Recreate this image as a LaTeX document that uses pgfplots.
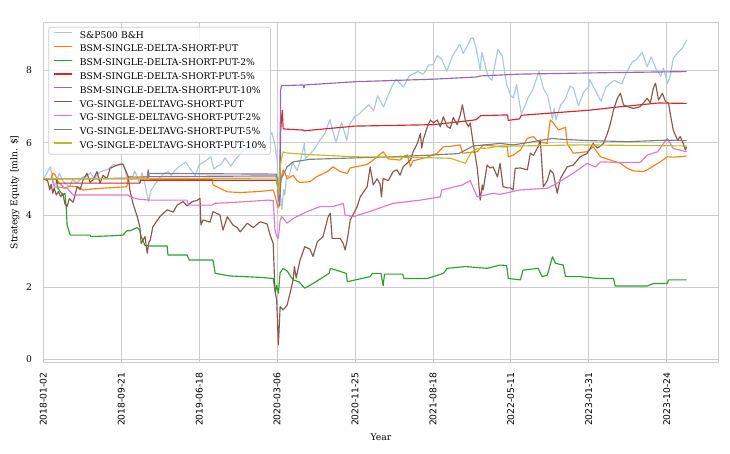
\documentclass[border=0pt]{standalone}
\usepackage{fontspec}
\setmainfont{DejaVu Serif}
\newfontfamily\dvsans{DejaVu Sans}
\usepackage{pgfplots}
\pgfplotsset{compat=1.18}
\definecolor{gridc}{RGB}{204,204,204}
\definecolor{spb}{RGB}{165,201,225}
\definecolor{torange}{RGB}{255,127,14}
\definecolor{tgreen}{RGB}{44,160,44}
\definecolor{tred}{RGB}{214,39,40}
\definecolor{tpurple}{RGB}{148,103,189}
\definecolor{tbrown}{RGB}{140,86,75}
\definecolor{tpink}{RGB}{227,119,194}
\definecolor{tgray}{RGB}{127,127,127}
\definecolor{tolive}{RGB}{188,189,34}
\newcommand\fs{\fontsize{9.2}{11}\selectfont}
\begin{document}
\begin{tikzpicture}
\useasboundingbox (-43.3pt,-90.8pt) rectangle (686.7pt,362.2pt);
\begin{axis}[
 at={(0pt,0pt)}, anchor=south west,
 scale only axis, width=675.4pt, height=339.7pt,
 xmin=0, xmax=1560, ymin=-0.08, ymax=9.33,
 xtick={0,180,360,540,720,900,1080,1260,1440},
 xticklabels={2018-01-02,2018-09-21,2019-06-18,2020-03-06,2020-11-25,2021-08-18,2022-05-11,2023-01-31,2023-10-24},
 ytick={0,2,4,6,8},
 /pgf/number format/assume math mode=true,
 major tick length=0pt,
 grid=major,
 major grid style={draw=gridc, line width=0.8pt},
 axis line style={draw=gridc, line width=1pt},
 xticklabel style={font=\dvsans\fs, rotate=90, anchor=east, inner xsep=10pt, inner ysep=0pt},
 yticklabel style={font=\fs, anchor=east, inner xsep=11pt, inner ysep=0pt},
 xlabel={Year}, ylabel={Strategy Equity [mln. \$]},
 every axis x label/.style={at={(axis description cs:0.5,0)}, yshift=-75pt, anchor=center, font=\fs},
 every axis y label/.style={at={(axis description cs:0,0.5)}, xshift=-28.3pt, rotate=90, anchor=center, font=\fs},
 legend cell align=left,
 legend style={at={(0.0074,0.987)}, anchor=north west, draw=gridc, line width=0.8pt, rounded corners=2pt,
   fill=white, fill opacity=0.8, text opacity=1, draw opacity=1, font=\fs, inner xsep=4.4pt, inner ysep=3.8pt, row sep=4.8pt,
   nodes={inner sep=0pt, text height=7pt, text depth=2pt},
   /tikz/every odd column/.append style={column sep=7.6pt}},
 legend image code/.code={\draw[#1, opacity=1] (0pt,3pt) -- (18pt,3pt);},
 every axis plot/.append style={line width=1.15pt, line join=round},
]
\addplot[spb] coordinates {(0,5.00) (8,5.15) (16,5.33) (21,5.05) (26,4.79) (32,5.00) (37,5.15) (45,4.95) (52,4.85) (61,4.79) (68,4.98) (75,4.90) (81,4.92) (90,5.05) (100,5.07) (109,5.17) (115,5.05) (120,5.04) (130,5.18) (140,5.23) (150,5.27) (162,5.40) (170,5.36) (179,5.43) (186,5.35) (193,5.06) (198,5.05) (205,4.98) (211,5.22) (217,5.05) (222,4.88) (228,5.17) (235,4.85) (243,4.36) (248,4.65) (258,4.85) (268,5.02) (278,5.14) (288,5.20) (296,5.10) (305,5.25) (315,5.35) (329,5.46) (338,5.30) (351,5.09) (360,5.39) (372,5.47) (387,5.61) (394,5.27) (402,5.35) (410,5.40) (420,5.58) (433,5.35) (445,5.56) (460,5.75) (471,5.85) (480,5.80) (494,5.99) (505,6.05) (511,5.82) (515,5.98) (528,6.28) (535,5.95) (540,5.51) (544,4.60) (545,5.03) (547,4.43) (549,4.45) (551,4.15) (555,4.70) (558,4.55) (562,5.10) (567,5.06) (576,5.45) (586,5.23) (595,5.55) (603,5.99) (605,5.57) (613,5.65) (625,5.80) (639,6.07) (650,6.25) (662,6.64) (668,6.35) (676,6.00) (689,6.56) (701,6.07) (707,6.50) (720,6.73) (730,6.80) (744,6.97) (752,7.05) (763,6.89) (772,7.30) (786,6.99) (795,7.27) (805,7.55) (815,7.76) (832,7.54) (845,7.85) (865,7.97) (878,7.90) (890,8.15) (900,8.16) (910,8.41) (920,8.32) (932,7.98) (945,8.40) (962,8.73) (970,8.47) (980,8.70) (988,8.89) (993,8.90) (1000,8.60) (1009,8.02) (1013,8.51) (1027,7.84) (1036,7.73) (1050,8.59) (1060,8.40) (1070,7.62) (1080,7.30) (1086,7.24) (1093,7.61) (1104,6.80) (1112,7.00) (1120,7.25) (1130,7.45) (1145,7.98) (1155,7.50) (1165,7.30) (1176,6.65) (1180,6.95) (1184,6.63) (1195,7.05) (1205,7.20) (1217,7.57) (1225,7.50) (1236,7.02) (1248,7.40) (1260,7.56) (1262,7.75) (1275,7.45) (1288,7.15) (1300,7.55) (1310,7.65) (1319,7.73) (1336,7.63) (1345,7.90) (1361,8.25) (1370,8.30) (1383,8.51) (1395,8.11) (1404,8.38) (1415,8.05) (1426,7.84) (1432,8.07) (1442,7.64) (1448,7.85) (1455,8.34) (1467,8.52) (1475,8.60) (1486,8.85)};
\addlegendentry{S\&P500 B\&H}
\addplot[torange] coordinates {(0,5.00) (18,5.00) (22,5.16) (27,5.12) (35,4.90) (50,4.74) (62,4.80) (80,4.78) (92,4.69) (100,4.70) (115,4.72) (150,4.75) (193,4.78) (196,5.06) (217,5.05) (240,5.06) (247,4.98) (390,4.98) (392,4.83) (425,4.64) (455,4.62) (500,4.65) (531,4.69) (536,4.50) (540,4.30) (543,4.19) (546,4.40) (548,4.80) (551,5.10) (554,5.25) (559,5.15) (563,5.00) (577,5.10) (586,4.95) (593,4.90) (616,4.92) (630,5.05) (656,5.20) (669,5.33) (686,5.20) (702,5.15) (709,5.30) (748,5.40) (762,5.52) (785,5.75) (797,5.55) (824,5.52) (831,5.61) (841,5.66) (848,5.33) (854,5.50) (871,5.55) (887,5.60) (910,5.71) (924,5.89) (940,5.90) (963,5.94) (968,5.71) (1002,5.75) (1016,5.94) (1055,5.89) (1072,5.89) (1074,5.61) (1085,5.65) (1102,5.80) (1118,6.12) (1132,6.17) (1143,6.03) (1164,5.98) (1171,6.63) (1178,6.55) (1190,6.35) (1206,6.43) (1210,5.98) (1224,5.71) (1256,5.75) (1270,5.89) (1287,5.61) (1333,5.43) (1349,5.29) (1363,5.22) (1386,5.20) (1395,5.25) (1425,5.47) (1441,5.61) (1455,5.60) (1486,5.63)};
\addlegendentry{BSM-SINGLE-DELTA-SHORT-PUT}
\addplot[tgreen] coordinates {(0,5.00) (30,5.00) (33,4.75) (45,4.55) (50,4.60) (53,4.20) (55,3.72) (62,3.44) (108,3.44) (110,3.40) (154,3.42) (184,3.44) (193,3.56) (200,3.56) (217,3.65) (223,3.56) (226,3.40) (235,3.15) (247,3.14) (286,3.14) (288,2.89) (332,2.89) (337,2.75) (392,2.75) (397,2.38) (431,2.31) (500,2.27) (531,2.24) (536,1.85) (539,2.05) (543,1.83) (547,2.40) (554,2.52) (563,2.45) (577,2.20) (590,2.15) (604,1.97) (623,2.10) (660,2.38) (663,2.52) (700,2.38) (702,2.15) (755,2.29) (760,2.38) (780,2.38) (785,2.04) (788,2.36) (830,2.36) (833,2.24) (887,2.24) (924,2.38) (933,2.52) (975,2.57) (1025,2.52) (1055,2.61) (1070,2.60) (1074,2.24) (1102,2.20) (1108,2.47) (1143,2.52) (1152,2.29) (1164,2.33) (1176,2.84) (1183,2.66) (1201,2.61) (1206,2.29) (1240,2.29) (1280,2.24) (1317,2.24) (1321,2.03) (1395,2.03) (1409,2.10) (1441,2.10) (1444,2.20) (1486,2.20)};
\addlegendentry{BSM-SINGLE-DELTA-SHORT-PUT-2\%}
\addplot[tred] coordinates {(0,5.00) (30,5.00) (32,4.88) (223,4.88) (225,4.96) (538,4.96) (541,4.80) (544,4.40) (546,4.50) (548,6.30) (550,6.62) (552,6.90) (554,6.40) (556,6.38) (600,6.35) (602,6.33) (720,6.46) (900,6.50) (990,6.62) (1000,6.64) (1010,6.75) (1072,6.77) (1074,6.62) (1100,6.66) (1104,6.76) (1260,6.90) (1320,6.98) (1420,7.10) (1486,7.09)};
\addlegendentry{BSM-SINGLE-DELTA-SHORT-PUT-5\%}
\addplot[tpurple] coordinates {(0,5.00) (240,5.02) (242,5.25) (244,5.06) (538,5.08) (541,4.95) (544,4.40) (546,4.25) (548,7.45) (550,7.58) (600,7.60) (602,7.52) (604,7.60) (720,7.69) (900,7.76) (1000,7.82) (1010,7.85) (1100,7.90) (1300,7.94) (1486,7.97)};
\addlegendentry{BSM-SINGLE-DELTA-SHORT-PUT-10\%}
\addplot[tbrown] coordinates {(0,5.00) (10,4.95) (15,4.69) (18,4.85) (22,4.60) (25,4.75) (30,4.55) (35,4.65) (40,4.50) (45,4.60) (50,4.30) (55,4.23) (60,4.45) (69,4.35) (78,4.78) (85,4.70) (92,4.97) (101,5.15) (108,4.90) (115,4.97) (124,5.20) (131,4.88) (138,5.10) (147,5.00) (154,5.29) (170,5.38) (184,5.41) (190,5.24) (196,5.06) (200,4.69) (207,4.32) (217,3.95) (223,3.67) (226,3.21) (235,3.40) (240,2.94) (244,3.25) (247,3.30) (253,3.67) (269,3.95) (286,4.14) (300,4.08) (309,4.27) (323,4.37) (332,4.25) (344,4.37) (355,4.40) (362,4.46) (364,3.72) (369,3.86) (385,3.80) (392,4.09) (408,4.00) (415,3.58) (425,3.95) (438,3.72) (448,3.65) (455,3.53) (471,3.77) (485,3.65) (501,3.81) (517,3.75) (524,3.44) (531,3.21) (535,1.92) (539,1.64) (543,0.40) (547,1.46) (554,1.37) (563,1.50) (570,1.83) (577,2.20) (580,2.57) (584,2.25) (593,2.75) (604,3.12) (616,3.05) (623,2.85) (633,3.26) (646,3.40) (658,3.95) (663,4.05) (667,3.35) (686,3.35) (693,3.20) (697,3.03) (702,3.30) (709,3.86) (725,4.23) (732,4.50) (748,4.78) (755,5.33) (762,4.83) (771,5.00) (778,4.85) (781,4.50) (785,5.01) (797,4.95) (808,5.20) (817,5.25) (824,5.10) (831,5.33) (848,5.52) (854,5.75) (864,5.98) (871,6.26) (874,5.85) (878,6.10) (887,6.44) (894,6.63) (901,6.55) (910,6.63) (917,6.44) (924,6.72) (933,6.45) (940,6.40) (947,6.70) (956,6.50) (963,6.77) (968,7.05) (975,6.60) (982,6.44) (986,6.55) (993,5.98) (1002,5.33) (1005,4.97) (1009,4.41) (1014,4.83) (1016,4.69) (1025,5.38) (1032,5.30) (1039,5.33) (1049,5.05) (1055,5.43) (1062,4.78) (1072,4.75) (1079,4.75) (1085,4.69) (1090,5.29) (1102,5.30) (1118,5.25) (1125,5.71) (1132,5.65) (1143,5.89) (1148,6.07) (1152,5.33) (1155,4.78) (1164,4.95) (1171,5.24) (1178,5.15) (1187,4.60) (1194,5.00) (1210,5.33) (1224,5.38) (1240,5.61) (1256,5.70) (1270,5.98) (1280,5.85) (1294,5.98) (1303,6.26) (1310,6.54) (1317,6.91) (1326,7.23) (1333,7.37) (1340,7.05) (1349,7.00) (1363,6.95) (1379,7.00) (1395,7.23) (1402,7.10) (1409,7.51) (1414,7.65) (1421,7.18) (1430,7.37) (1437,7.14) (1444,7.10) (1448,6.81) (1455,6.35) (1465,6.07) (1471,6.17) (1478,5.98) (1483,5.80) (1486,5.89)};
\addlegendentry{VG-SINGLE-DELTAVG-SHORT-PUT}
\addplot[tpink] coordinates {(0,5.00) (20,5.00) (25,4.78) (55,4.74) (62,4.65) (69,4.55) (196,4.55) (200,4.50) (223,4.43) (247,4.41) (332,4.41) (335,4.27) (390,4.27) (395,4.32) (431,4.34) (520,4.41) (531,4.40) (535,3.60) (539,3.40) (543,3.35) (547,3.85) (551,3.95) (563,3.77) (577,3.90) (609,4.09) (639,4.23) (669,4.23) (693,4.32) (697,4.00) (716,3.95) (755,4.10) (808,4.32) (871,4.41) (917,4.50) (920,4.69) (968,4.83) (986,4.95) (1002,4.50) (1039,4.60) (1055,4.57) (1100,4.69) (1164,4.74) (1187,4.88) (1217,5.10) (1240,5.29) (1256,5.43) (1275,5.33) (1287,5.47) (1333,5.45) (1379,5.45) (1395,5.66) (1419,5.75) (1441,6.12) (1455,5.84) (1486,5.75)};
\addlegendentry{VG-SINGLE-DELTAVG-SHORT-PUT-2\%}
\addplot[tgray] coordinates {(0,5.00) (242,5.00) (244,5.15) (538,5.13) (541,4.90) (545,4.75) (548,5.00) (552,5.06) (563,5.33) (577,5.47) (616,5.54) (720,5.58) (808,5.61) (901,5.66) (960,5.70) (993,5.91) (1055,5.98) (1085,5.94) (1102,5.97) (1176,6.12) (1190,6.10) (1256,6.06) (1349,6.03) (1441,6.07) (1486,6.06)};
\addlegendentry{VG-SINGLE-DELTAVG-SHORT-PUT-5\%}
\addplot[tolive] coordinates {(0,5.00) (538,5.02) (541,4.80) (544,4.55) (547,5.30) (550,5.55) (554,5.75) (560,5.72) (600,5.68) (720,5.61) (831,5.60) (940,5.57) (963,5.48) (975,5.43) (982,5.60) (990,5.75) (1002,5.84) (1025,5.85) (1055,5.91) (1102,5.91) (1240,5.94) (1486,5.91)};
\addlegendentry{VG-SINGLE-DELTAVG-SHORT-PUT-10\%}
\node[anchor=base west, font=\fs, inner sep=0pt] at (rel axis cs:0,1) [yshift=5pt] {1e6};
\end{axis}
\end{tikzpicture}
\end{document}
